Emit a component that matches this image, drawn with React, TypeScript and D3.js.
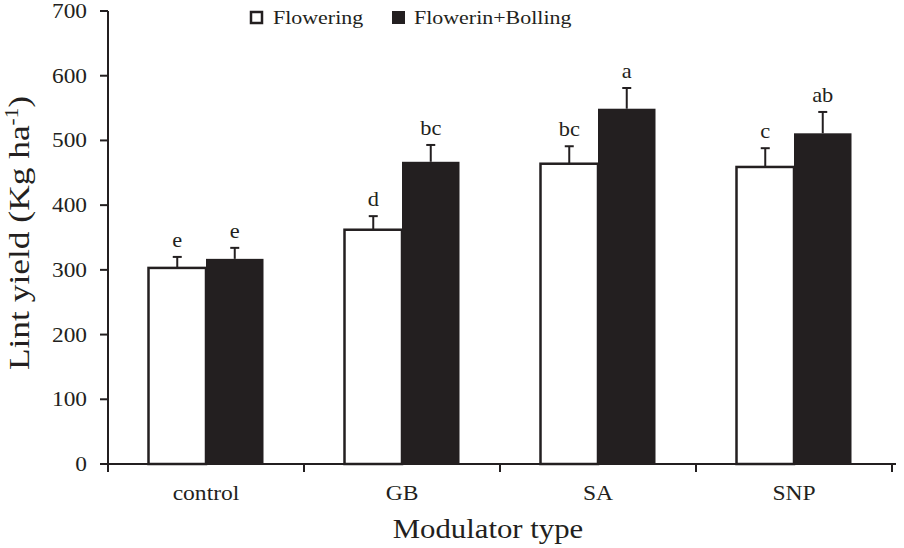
import React from "react";
import * as d3 from "d3";

const categories = ["control", "GB", "SA", "SNP"];
const seriesNames = ["Flowering", "Flowerin+Bolling"];
const flowering = [303, 362, 464, 459];
const floweringErr = [17, 21, 27, 29];
const floweringLetters = ["e", "d", "bc", "c"];
const bolling = [317, 467, 549, 511];
const bollingErr = [17, 26, 32, 33];
const bollingLetters = ["e", "bc", "a", "ab"];
const yTicks = [0, 100, 200, 300, 400, 500, 600, 700];

const W = 904;
const H = 548;
const left = 108;
const right = 892;
const top = 11;
const bottom = 464;
const INK = "#231f20";
const FONT = "'Liberation Serif', 'Times New Roman', serif";
const SX = 1.17;

function T({ x, y, size, anchor = "middle", children, rotate = 0, sx = SX }: any) {
  return (
    <g transform={`translate(${x},${y}) rotate(${rotate}) scale(${sx},1)`}>
      <text x={0} y={0} fontSize={size} fontFamily={FONT} fill={INK} textAnchor={anchor}>
        {children}
      </text>
    </g>
  );
}

export default function App() {
  const y = d3.scaleLinear().domain([0, 700]).range([bottom, top]);
  const x0 = d3.scaleBand().domain(categories).range([left, right]).padding(0);
  const x1 = d3.scaleBand().domain(seriesNames).range([40.5, 155.5]).padding(0);
  const series = [
    { name: seriesNames[0], vals: flowering, errs: floweringErr, letters: floweringLetters, fill: "#ffffff" },
    { name: seriesNames[1], vals: bolling, errs: bollingErr, letters: bollingLetters, fill: INK },
  ];
  const bw = x1.bandwidth();
  const xTickPos = [...categories.map((c) => x0(c) as number), right];

  return (
    <svg width={W} height={H} style={{ position: "absolute", left: 0, top: 0, background: "#fff" }}>
      {/* bars */}
      {series.map((s) =>
        categories.map((c, i) => {
          const bx = (x0(c) as number) + (x1(s.name) as number);
          const cx = bx + bw / 2;
          const yt = y(s.vals[i]);
          const ye = y(s.vals[i] + s.errs[i]);
          return (
            <g key={s.name + c}>
              <line x1={cx} x2={cx} y1={yt} y2={ye} stroke={INK} strokeWidth={2} />
              <line x1={cx - 4.5} x2={cx + 4.5} y1={ye} y2={ye} stroke={INK} strokeWidth={2} />
              <rect
                x={bx}
                y={yt}
                width={bw}
                height={bottom - yt}
                fill={s.fill}
                stroke={INK}
                strokeWidth={s.fill === INK ? 0 : 2.5}
              />
              <T x={cx} y={ye - 10} size={20} sx={1.12}>
                {s.letters[i]}
              </T>
            </g>
          );
        })
      )}
      {/* y axis */}
      <line x1={left} x2={left} y1={top} y2={bottom + 8} stroke={INK} strokeWidth={2} />
      {yTicks.map((t) => (
        <g key={t}>
          <line x1={left - 8} x2={left} y1={y(t)} y2={y(t)} stroke={INK} strokeWidth={2} />
          <T x={87} y={y(t) + 7} size={20.5} anchor="end" sx={1.14}>
            {t}
          </T>
        </g>
      ))}
      {/* x axis */}
      <line x1={left - 8} x2={right + 4} y1={bottom} y2={bottom} stroke={INK} strokeWidth={2} />
      {xTickPos.map((p, i) => (
        <line key={i} x1={p} x2={p} y1={bottom} y2={bottom + 8} stroke={INK} strokeWidth={2} />
      ))}
      {categories.map((c) => (
        <T key={c} x={(x0(c) as number) + 98} y={500} size={20.5} sx={1.15}>
          {c}
        </T>
      ))}
      <T x={488} y={538} size={27} sx={1.14}>
        Modulator type
      </T>
      <g transform="translate(29,233) rotate(-90) scale(1.18,1)">
        <text x={0} y={0} fontSize={30} fontFamily={FONT} fill={INK} textAnchor="middle">
          Lint yield (Kg ha<tspan dy={-11} fontSize={18}>-1</tspan>
          <tspan dy={11}>)</tspan>
        </text>
      </g>
      {/* legend */}
      <rect x={251} y={12} width={11} height={11} fill="#fff" stroke={INK} strokeWidth={2.5} />
      <T x={273} y={24} size={18} anchor="start" sx={1.22}>
        {seriesNames[0]}
      </T>
      <rect x={392} y={11} width={13} height={13} fill={INK} />
      <T x={414} y={24} size={18} anchor="start" sx={1.22}>
        {seriesNames[1]}
      </T>
    </svg>
  );
}
